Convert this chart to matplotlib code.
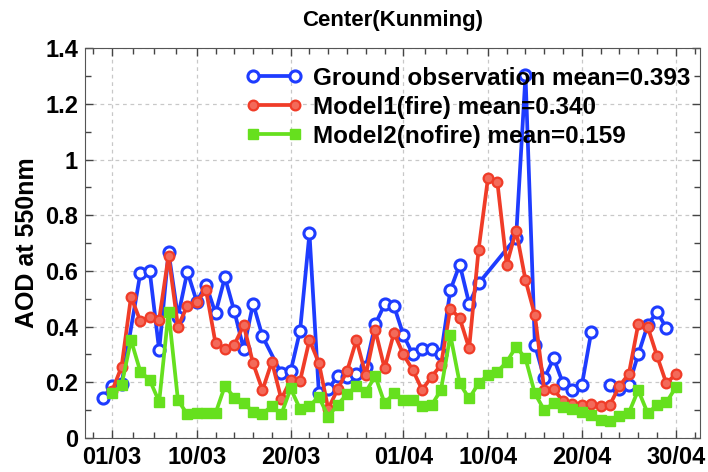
import matplotlib.pyplot as plt
from matplotlib.ticker import FixedLocator, FuncFormatter
import numpy as np

# days counted from 01/03 (day 0) to 30/04 (day 60)
obs_days = [-1, 0, 1, 3, 4, 5, 6, 7, 8, 9, 10, 11, 12, 13, 14, 15, 16, 18, 19, 20,
            21, 22, 23, 24, 25, 26, 27, 28, 29, 30, 31, 32, 33, 34, 35, 36, 37, 38, 39,
            43, 44, 45, 46, 47, 48, 49, 50, 51, 52, 53, 54, 55, 56, 57, 58, 59]
obs_aod = [0.145, 0.185, 0.195, 0.593, 0.598, 0.315, 0.668, 0.435, 0.597, 0.49, 0.55,
           0.448, 0.577, 0.455, 0.32, 0.483, 0.365, 0.232, 0.24, 0.385,
           0.735, 0.162, 0.175, 0.223, 0.22, 0.23, 0.255, 0.408, 0.48, 0.474,
           0.37, 0.30, 0.32, 0.318, 0.30, 0.531, 0.623, 0.483, 0.555,
           0.72, 1.303, 0.334, 0.214, 0.286, 0.196, 0.172, 0.19, 0.381, np.nan,
           0.19, 0.175, 0.19, 0.30, 0.405, 0.453, 0.395]

model_days = list(range(0, 61))
fire_aod = [0.17, 0.256, 0.507, 0.42, 0.435, 0.425, 0.655, 0.40, 0.475, 0.49,
            0.53, 0.34, 0.32, 0.335, 0.405, 0.268, 0.172, 0.274, 0.14, 0.208,
            0.205, 0.352, 0.27, 0.105, 0.175, 0.24, 0.352, 0.226, 0.388, 0.25,
            0.378, 0.30, 0.244, 0.173, 0.22, 0.262, 0.465, 0.43, 0.322, 0.675,
            0.932, 0.92, 0.623, 0.745, 0.567, 0.441, 0.172, 0.175, 0.132, 0.123,
            0.12, 0.122, 0.115, 0.12, 0.187, 0.23, 0.408, 0.40, 0.295, 0.196, 0.23]
nofire_aod = [0.16, 0.19, 0.352, 0.238, 0.208, 0.13, 0.453, 0.136, 0.085, 0.089,
              0.089, 0.089, 0.187, 0.145, 0.125, 0.094, 0.087, 0.115, 0.085, 0.178,
              0.104, 0.115, 0.148, 0.077, 0.12, 0.157, 0.187, 0.165, 0.223, 0.125,
              0.16, 0.136, 0.136, 0.115, 0.118, 0.172, 0.37, 0.196, 0.142, 0.196,
              0.226, 0.238, 0.273, 0.328, 0.286, 0.16, 0.10, 0.125, 0.11, 0.105,
              0.092, 0.082, 0.065, 0.06, 0.08, 0.09, 0.172, 0.09, 0.117, 0.128, 0.182]

labels = ['Ground observation mean=0.393', 'Model1(fire) mean=0.340',
          'Model2(nofire) mean=0.159']
tick_days = [0, 9, 19, 31, 40, 50, 60]
tick_labels = ['01/03', '10/03', '20/03', '01/04', '10/04', '20/04', '30/04']

plt.rcParams['font.family'] = ['Liberation Sans', 'DejaVu Sans']
plt.rcParams['font.weight'] = 'bold'

fig = plt.figure(figsize=(7.08, 4.72), dpi=100)
ax = fig.add_axes([0.12, 0.072, 0.869, 0.826])

ax.plot(obs_days, obs_aod, color='#1e3cff', lw=2.7, marker='o', ms=8,
        mfc='white', mec='#1e3cff', mew=2.2, label=labels[0], zorder=3)
ax.plot(model_days, fire_aod, color='#f03c28', lw=2.7, marker='o', ms=7,
        mfc='#f36a5a', mec='#f03c28', mew=1.6, label=labels[1], zorder=4)
ax.plot(model_days, nofire_aod, color='#66e01e', lw=2.7, marker='s', ms=6.5,
        mfc='#66e01e', mec='#66e01e', label=labels[2], zorder=5)

ax.set_xlim(-2.9, 62.6)
ax.set_ylim(0, 1.4)

ax.set_xticks(tick_days)
ax.set_xticklabels(tick_labels)
minor_x = []
for a, b in zip(tick_days[:-1], tick_days[1:]):
    n = int(round((b - a) / 2.0))
    minor_x += list(np.linspace(a, b, n + 1)[1:-1])
minor_x += [-2, 62]
ax.xaxis.set_minor_locator(FixedLocator(minor_x))

ax.set_yticks(np.arange(0, 1.41, 0.2))
ax.yaxis.set_major_formatter(FuncFormatter(lambda v, p: f'{v:g}'))
ax.yaxis.set_minor_locator(FixedLocator(np.arange(0.1, 1.4, 0.2)))

ax.tick_params(which='both', direction='in', top=True, right=True,
               labelsize=17, width=1, color='#444444')
ax.tick_params(which='major', length=6)
ax.tick_params(which='minor', length=4)
ax.tick_params(axis='x', pad=6)
ax.tick_params(axis='y', pad=5)
ax.grid(True, which='major', linestyle=(0, (3, 3)), color='#c8c8c8', lw=0.9)
ax.set_axisbelow(True)
for s in ax.spines.values():
    s.set_color('#555555')

ax.set_ylabel('AOD at 550nm', fontsize=18, fontweight='bold', labelpad=4)
ax.set_title('Center(Kunming)', fontsize=16, fontweight='bold', pad=16)

ax.legend(loc='upper left', bbox_to_anchor=(0.238, 0.99), frameon=False,
          fontsize=17.5, numpoints=2, handlelength=2.3, handletextpad=0.45,
          labelspacing=0.25, borderaxespad=0.2)

fig.savefig('out.png', dpi=100)
